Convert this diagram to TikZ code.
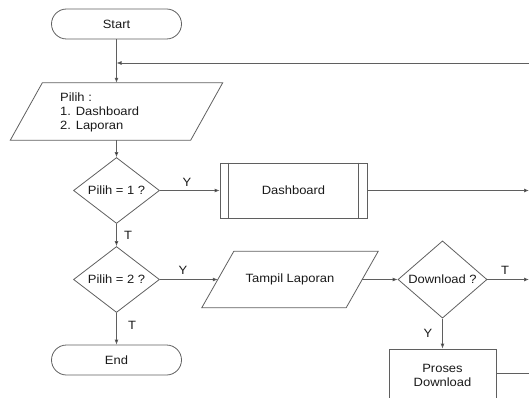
\documentclass[tikz,border=0pt]{standalone}
\usepackage{fontspec}
\setmainfont{Liberation Sans}[FakeStretch=1.08]
\usetikzlibrary{shapes.geometric,arrows.meta}
\definecolor{edge}{RGB}{95,95,95}
\definecolor{ink}{RGB}{25,25,25}

\begin{document}
\begin{tikzpicture}[x=1pt,y=-1pt,
  every node/.style={font=\fontsize{12}{14}\selectfont, text=ink},
  box/.style={draw=edge, line width=0.8pt, rectangle, inner sep=0pt},
  terminal/.style={box, rounded corners=15pt, minimum width=130pt, minimum height=30pt},
  decision/.style={draw=edge, line width=0.8pt, diamond, inner sep=0pt},
  iobody/.style={rectangle, inner sep=0pt},
  flow/.style={draw=edge, line width=0.8pt, -{Latex[length=5pt,width=4pt,fill=black]}},
  wire/.style={draw=edge, line width=0.8pt},
  tag/.style={inner sep=0pt},
]
\useasboundingbox (0,0) rectangle (529,398);

% main column
\node[terminal] (start) at (116.5,24) {Start};
\node[iobody, minimum width=180pt, minimum height=57pt] (pilih) at (116.5,111.5) {};
\draw[wire] ([xshift=16pt]pilih.north west) -- ([xshift=16pt]pilih.north east)
  -- ([xshift=-16pt]pilih.south east) -- ([xshift=-16pt]pilih.south west) -- cycle;
\node[anchor=west, align=left, inner sep=0pt] (menu) at (60,112) {Pilih :\\1. Dashboard\\2. Laporan};
\node[decision, minimum width=86pt, minimum height=55pt] (q1) at (116.5,190.5) {Pilih = 1 ?};
\node[decision, minimum width=86pt, minimum height=55pt] (q2) at (116.5,279.5) {Pilih = 2 ?};
\node[terminal] (end) at (116.5,360) {End};

% branches
\node[box, minimum width=147pt, minimum height=55pt] (dash) at (293.5,190.5) {Dashboard};
\draw[wire] ([xshift=9pt]dash.north west) -- ([xshift=9pt]dash.south west);
\draw[wire] ([xshift=-9pt]dash.north east) -- ([xshift=-9pt]dash.south east);
\node[iobody, minimum width=144pt, minimum height=56pt] (tampil) at (290,279.5) {Tampil Laporan};
\draw[wire] ([xshift=16pt]tampil.north west) -- ([xshift=16pt]tampil.north east)
  -- ([xshift=-16pt]tampil.south east) -- ([xshift=-16pt]tampil.south west) -- cycle;
\node[decision, minimum width=89pt, minimum height=72pt] (dl) at (442.5,279.5) {Download ?};
\node[box, minimum width=107pt, minimum height=52pt, align=center] (proses) at (442.5,375) {Proses\\Download};

% loose ends at the right border
\coordinate (join) at (116.5,63);
\coordinate (loopin) at (530,63);
\coordinate (out1) at (529,190.5);
\coordinate (out2) at (529,279.5);
\coordinate (out3) at (530,373);

% connectors
\draw[wire] (start.south) -- (join);
\draw[flow] (join) -- (pilih.north);
\draw[flow] (loopin) -- (join);
\draw[flow] (pilih.south) -- (q1.north);
\draw[flow] (q1.east) -- (dash.west);
\draw[flow] (dash.east) -- (out1);
\draw[flow] (q1.south) -- (q2.north);
\draw[flow] (q2.east) -- (tampil.west);
\draw[flow] (q2.south) -- (end.north);
\draw[flow] (tampil.east) -- (dl.west);
\draw[flow] (dl.east) -- (out2);
\draw[flow] (dl.south) -- (proses.north);
\draw[wire] (proses.east |- out3) -- (out3);

% branch labels
\node[tag] (y1) at (187,182) {Y};
\node[tag] (t1) at (128,235) {T};
\node[tag] (y2) at (183,270) {Y};
\node[tag] (t2) at (132,325) {T};
\node[tag] (t3) at (505,270) {T};
\node[tag] (y3) at (428,333) {Y};
\end{tikzpicture}
\end{document}
